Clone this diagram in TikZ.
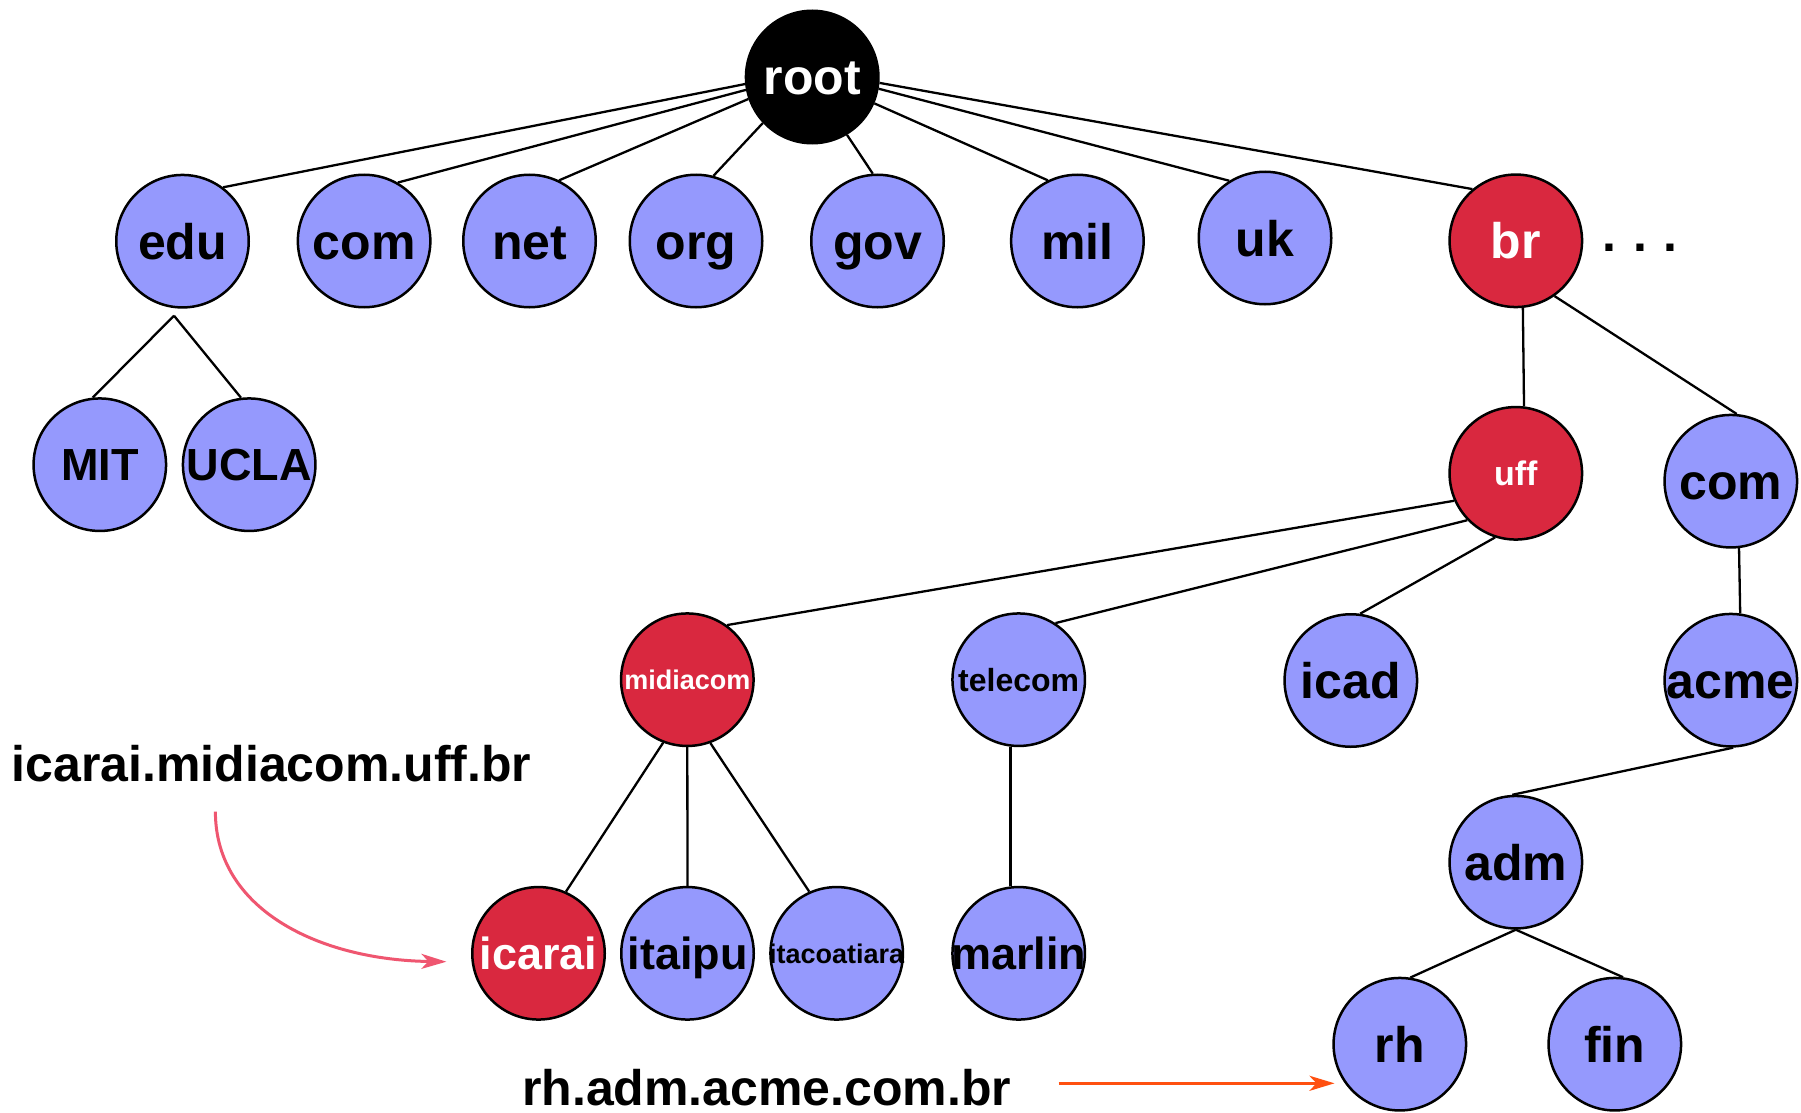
\documentclass[tikz,border=0pt]{standalone}
\usepackage{fontspec}
\setsansfont{Liberation Sans}
\usetikzlibrary{arrows.meta}

\definecolor{nodeblue}{HTML}{9599FD}
\definecolor{nodered}{HTML}{D9283F}
\definecolor{linkpink}{HTML}{EF5670}
\definecolor{linkorange}{HTML}{FF5010}

% centre a label without letting it widen the circle
\newcommand{\nodetext}[1]{\makebox[0pt]{#1}}

\begin{document}
\begin{tikzpicture}[x=1pt,y=-1pt,
  dom/.style={circle, draw=black, line width=2.5pt, minimum size=132.5pt,
    inner sep=0pt, fill=nodeblue,
    font=\sffamily\bfseries\fontsize{50}{60}\selectfont,
    text height=36pt, text depth=0pt},
  hot/.style={dom, fill=nodered, text=white},
  rootnode/.style={dom, fill=black, text=white},
  fsmed/.style={font=\sffamily\bfseries\fontsize{45}{54}\selectfont, text height=32.4pt},
  fsuff/.style={font=\sffamily\bfseries\fontsize{34}{40}\selectfont, text height=24.5pt},
  fstel/.style={font=\sffamily\bfseries\fontsize{32}{38}\selectfont, text height=23pt},
  fssmall/.style={font=\sffamily\bfseries\fontsize{27}{32}\selectfont, text height=19.5pt},
  link/.style={draw=black, line width=2.3pt},
  namelabel/.style={anchor=base west, inner sep=0pt, font=\sffamily\bfseries\fontsize{#1}{#1}\selectfont},
  pointer/.style={line width=3pt, -{Stealth[length=25pt, width=15pt, inset=7pt]}}
]
\useasboundingbox (0,0) rectangle (1801,1113);
\fill[white] (0,0) rectangle (1801,1113);

% root and top-level domains
\node[rootnode] (root) at (812.2,77) {\nodetext{root}};
\node[dom] (edu) at (182.5,241.2) {\nodetext{edu}};
\node[dom] (com) at (364.1,241) {\nodetext{com}};
\node[dom] (net) at (529.5,241) {\nodetext{net}};
\node[dom] (org) at (696,241) {\nodetext{org}};
\node[dom] (gov) at (877.5,241) {\nodetext{gov}};
\node[dom] (mil) at (1077.4,241) {\nodetext{mil}};
\node[dom] (uk) at (1265,238) {\nodetext{uk}};
\node[hot] (br) at (1515.8,240.8) {\nodetext{br}};
\node[anchor=base, inner sep=0pt, font=\sffamily\bfseries\fontsize{50}{60}\selectfont]
  (more) at (1640,251) {.\hspace{16.8pt}.\hspace{16.8pt}.};

% second level
\node[dom, fsmed] (mit) at (99.8,464.7) {\nodetext{MIT}};
\node[dom, fsmed] (ucla) at (249.2,464.7) {\nodetext{UCLA}};
\node[hot, fsuff] (uff) at (1515.8,473.3) {\nodetext{uff}};
\node[dom] (combr) at (1730.8,481.2) {\nodetext{com}};

% third level
\node[hot, fssmall] (midiacom) at (687.3,679.7) {\nodetext{midiacom}};
\node[dom, fstel] (telecom) at (1018.7,679.7) {\nodetext{telecom}};
\node[dom] (icad) at (1350.8,680.5) {\nodetext{icad}};
\node[dom] (acme) at (1730.8,680.2) {\nodetext{acme}};

% lower levels
\node[dom] (adm) at (1515.8,862.2) {\nodetext{adm}};
\node[hot, fsmed] (icarai) at (538.5,953.3) {\nodetext{icarai}};
\node[dom, fsmed] (itaipu) at (687.5,953.3) {\nodetext{itaipu}};
\node[dom, fssmall] (itacoatiara) at (836.7,953.3) {\nodetext{itacoatiara}};
\node[dom, fsmed] (marlin) at (1018.7,953.3) {\nodetext{marlin}};
\node[dom] (rh) at (1399.8,1044.2) {\nodetext{rh}};
\node[dom] (fin) at (1614.8,1044.2) {\nodetext{fin}};

% full names
\node[namelabel=50] (nameA) at (11.6,781.7) {icarai.midiacom.uff.br};
\node[namelabel=50] (nameB) at (522,1105) {rh.adm.acme.com.br};

% tree links
\draw[link] (root.186.7) -- (edu.53.6);
\draw[link] (root.191.2) -- (com.60.1);
\draw[link] (root.199.2) -- (net.64.9);
\draw[link] (root.223.6) -- (org.75.4);
\draw[link] (root.301.3) -- (gov.94.3);
\draw[link] (root.337.8) -- (mil.116.7);
\draw[link] (root.350.3) -- (uk.122.1);
\draw[link] (root.355.2) -- (br.130);

\coordinate (eduJ) at (174,315.7);
\draw[link] (eduJ) -- (mit.96);
\draw[link] (eduJ) -- (ucla.97.8);

\draw[link] (br.276.8) -- (uff.83);
\draw[link] (br.305.4) -- (combr.85);
\draw[link] (combr.277.1) -- (acme.82.8);
\draw[link] (acme.272) -- (adm.93.5);
\draw[link] (adm.south) -- (rh.81.4);
\draw[link] (adm.south) -- (fin.83.3);

\draw[link] (uff.204.7) -- (midiacom.54);
\draw[link] (uff.224.4) -- (telecom.57.2);
\draw[link] (uff.252.4) -- (icad.82.9);

\draw[link] (midiacom.249.8) -- (icarai.66);
\draw[link] (midiacom.south) -- (itaipu.north);
\draw[link] (midiacom.290.3) -- (itacoatiara.114.5);
\draw[link] (telecom.263) -- (marlin.97);

% pointers from the full names
\coordinate (pinkS) at (215.4,811.7);
\coordinate (pinkE) at (446.4,961.7);
\draw[pointer, linkpink] (pinkS) .. controls (215.4,910) and (320,960) .. (pinkE);

\coordinate (orangeS) at (1058.7,1083.3);
\coordinate (orangeE) at (1334.5,1083.3);
\draw[pointer, linkorange] (orangeS) -- (orangeE);
\end{tikzpicture}
\end{document}
